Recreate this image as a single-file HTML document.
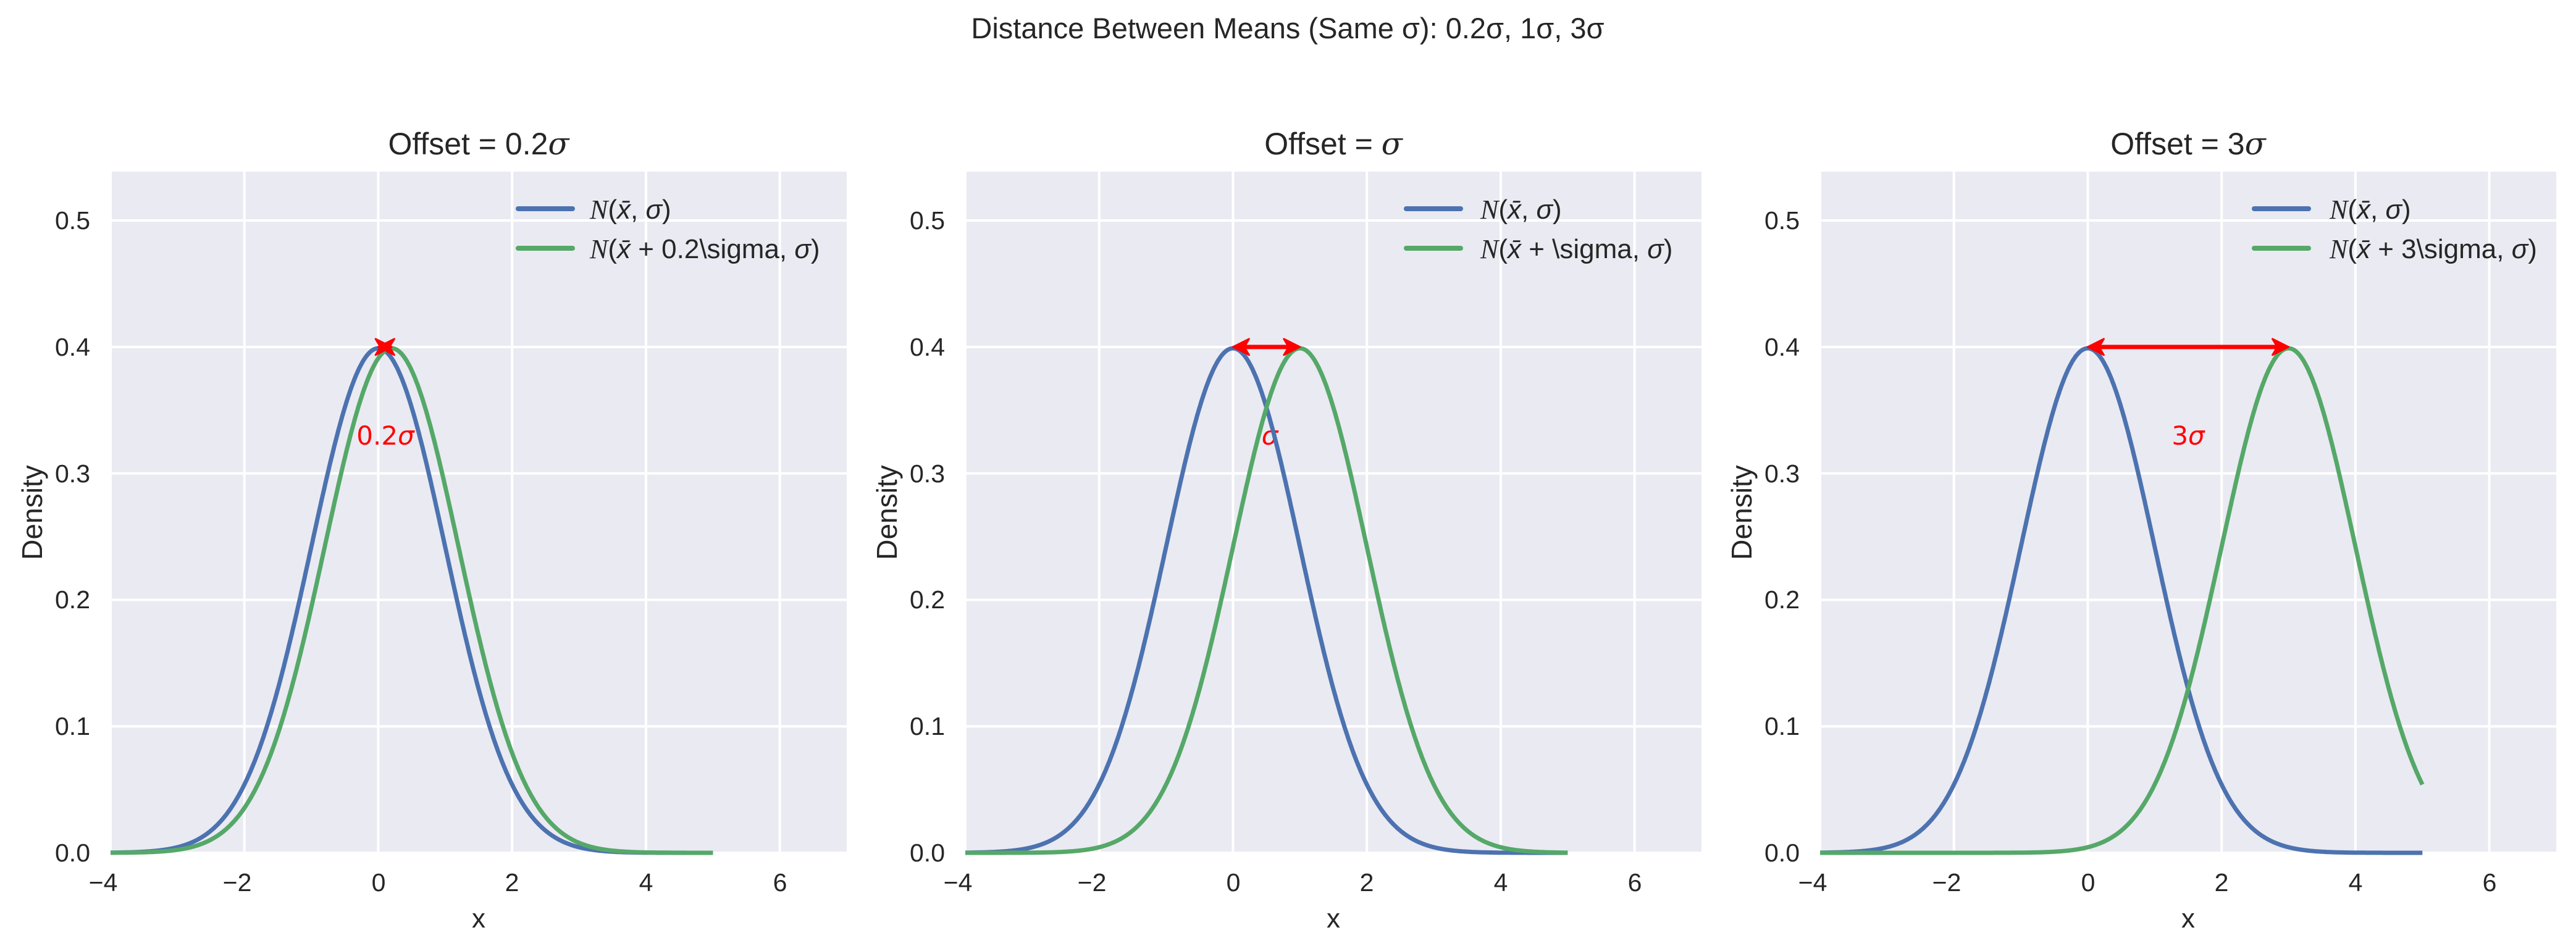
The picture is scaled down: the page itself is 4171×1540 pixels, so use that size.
<!DOCTYPE html>
<html><head><meta charset="utf-8"><style>
html,body{margin:0;padding:0;background:#fff;}
svg{display:block;font-family:"Liberation Sans",Arial,sans-serif;}
</style></head><body>
<svg id="s" width="4171" height="1540" viewBox="0 0 4171 1540" xmlns="http://www.w3.org/2000/svg">
<rect width="4171" height="1540" fill="#fff"/>
<text x="2085" y="62" font-size="47" text-anchor="middle" fill="#262626">Distance Between Means (Same σ): 0.2σ, 1σ, 3σ</text>
<g id="p0"><text x="775" y="250" font-size="50" text-anchor="middle" fill="#262626">Offset = 0.2<tspan font-style="italic" font-family="DejaVu Serif">σ</tspan></text></g>
<g id="p1"><text x="2159" y="250" font-size="50" text-anchor="middle" fill="#262626">Offset = <tspan font-style="italic" font-family="DejaVu Serif">σ</tspan></text></g>
<g id="p2"><text x="3543" y="250" font-size="50" text-anchor="middle" fill="#262626">Offset = 3<tspan font-style="italic" font-family="DejaVu Serif">σ</tspan></text></g>
<g id="legs">
<text x="955" y="354" font-size="44" fill="#262626"><tspan font-style="italic" font-family="Liberation Serif">N</tspan>(<tspan font-style="italic">x̄</tspan>, <tspan font-style="italic">σ</tspan>)</text>
<text x="955" y="418" font-size="44" fill="#262626"><tspan font-style="italic" font-family="Liberation Serif">N</tspan>(<tspan font-style="italic">x̄</tspan> + 0.2\sigma, <tspan font-style="italic">σ</tspan>)</text>
<text x="2397" y="354" font-size="44" fill="#262626"><tspan font-style="italic" font-family="Liberation Serif">N</tspan>(<tspan font-style="italic">x̄</tspan>, <tspan font-style="italic">σ</tspan>)</text>
<text x="2397" y="418" font-size="44" fill="#262626"><tspan font-style="italic" font-family="Liberation Serif">N</tspan>(<tspan font-style="italic">x̄</tspan> + \sigma, <tspan font-style="italic">σ</tspan>)</text>
<text x="3772" y="354" font-size="44" fill="#262626"><tspan font-style="italic" font-family="Liberation Serif">N</tspan>(<tspan font-style="italic">x̄</tspan>, <tspan font-style="italic">σ</tspan>)</text>
<text x="3772" y="418" font-size="44" fill="#262626"><tspan font-style="italic" font-family="Liberation Serif">N</tspan>(<tspan font-style="italic">x̄</tspan> + 3\sigma, <tspan font-style="italic">σ</tspan>)</text>
</g>
<g font-size="42" fill="#ff0000" font-family="DejaVu Sans" text-anchor="middle">
<text x="624" y="720">0.2<tspan font-style="italic">σ</tspan></text>
<text x="2056" y="720"><tspan font-style="italic">σ</tspan></text>
<text x="3543" y="720">3<tspan font-style="italic">σ</tspan></text>
</g>
<g font-size="44" fill="#262626" text-anchor="middle">
<text x="775" y="1502">x</text><text x="2159" y="1502">x</text><text x="3543" y="1502">x</text>
</g>
<g font-size="46" fill="#262626" text-anchor="middle">
<text transform="translate(68,830) rotate(-90)">Density</text>
<text transform="translate(1452,830) rotate(-90)">Density</text>
<text transform="translate(2836,830) rotate(-90)">Density</text>
</g>
<g id="tk" font-size="41" fill="#262626">
<text x="146" y="1395" text-anchor="end">0.0</text><text x="146" y="1190" text-anchor="end">0.1</text><text x="146" y="985" text-anchor="end">0.2</text><text x="146" y="781" text-anchor="end">0.3</text><text x="146" y="576" text-anchor="end">0.4</text><text x="146" y="371" text-anchor="end">0.5</text>
<text x="1530" y="1395" text-anchor="end">0.0</text><text x="1530" y="1190" text-anchor="end">0.1</text><text x="1530" y="985" text-anchor="end">0.2</text><text x="1530" y="781" text-anchor="end">0.3</text><text x="1530" y="576" text-anchor="end">0.4</text><text x="1530" y="371" text-anchor="end">0.5</text>
<text x="2914" y="1395" text-anchor="end">0.0</text><text x="2914" y="1190" text-anchor="end">0.1</text><text x="2914" y="985" text-anchor="end">0.2</text><text x="2914" y="781" text-anchor="end">0.3</text><text x="2914" y="576" text-anchor="end">0.4</text><text x="2914" y="371" text-anchor="end">0.5</text>
<text x="167" y="1443" text-anchor="middle">−4</text><text x="384" y="1443" text-anchor="middle">−2</text><text x="613" y="1443" text-anchor="middle">0</text><text x="829" y="1443" text-anchor="middle">2</text><text x="1046" y="1443" text-anchor="middle">4</text><text x="1263" y="1443" text-anchor="middle">6</text>
<text x="1551" y="1443" text-anchor="middle">−4</text><text x="1768" y="1443" text-anchor="middle">−2</text><text x="1997" y="1443" text-anchor="middle">0</text><text x="2213" y="1443" text-anchor="middle">2</text><text x="2430" y="1443" text-anchor="middle">4</text><text x="2647" y="1443" text-anchor="middle">6</text>
<text x="2935" y="1443" text-anchor="middle">−4</text><text x="3152" y="1443" text-anchor="middle">−2</text><text x="3381" y="1443" text-anchor="middle">0</text><text x="3597" y="1443" text-anchor="middle">2</text><text x="3814" y="1443" text-anchor="middle">4</text><text x="4031" y="1443" text-anchor="middle">6</text>
</g>
</svg>
<script>
(function(){
var NS="http://www.w3.org/2000/svg",s=document.getElementById('s');
var lefts=[179,1563,2947],W=1192,T=278,B=1381,U=W/11,YS=(B-T)/0.5386;
var offs=[0.2,1,3],legX=[660,714,703];
function el(n,a){var e=document.createElementNS(NS,n);for(var k in a)e.setAttribute(k,a[k]);return e;}
var first=s.querySelector('#p0');
for(var p=0;p<3;p++){
 var L=lefts[p],g=el('g',{});
 s.insertBefore(g,first);
 function X(x){return L+(x+4)*U;} function Y(y){return B-y*YS;}
 g.appendChild(el('rect',{x:L,y:T,width:W,height:B-T,fill:'#eaeaf2'}));
 for(var t=-4;t<=6;t+=2)g.appendChild(el('line',{x1:X(t),x2:X(t),y1:T,y2:B,stroke:'#fff','stroke-width':4}));
 for(var v=0;v<=5;v++)g.appendChild(el('line',{x1:L,x2:L+W,y1:Y(v/10),y2:Y(v/10),stroke:'#fff','stroke-width':4}));
 var cols=['#4c72b0','#55a868'],mus=[0,offs[p]];
 var cg=el('g',{});s.appendChild(cg);
 for(var c=0;c<2;c++){var d='';for(var i=0;i<=900;i++){var x=-4+i*0.01,y=Math.exp(-0.5*(x-mus[c])*(x-mus[c]))/Math.sqrt(2*Math.PI);d+=(i?'L':'M')+X(x).toFixed(1)+' '+Y(y).toFixed(1);}
  cg.appendChild(el('path',{d:d,fill:'none',stroke:cols[c],'stroke-width':7,'stroke-linejoin':'round'}));
  var ly=c?402:338;cg.appendChild(el('line',{x1:L+legX[p],x2:L+legX[p]+88,y1:ly,y2:ly,stroke:cols[c],'stroke-width':8,'stroke-linecap':'round'}));}
 var ax1=X(0),ax2=X(offs[p]),ay=Y(0.4),h=26,w=13;
 cg.appendChild(el('line',{x1:ax1+h*0.5,x2:ax2-h*0.5,y1:ay,y2:ay,stroke:'#f00','stroke-width':7}));
 cg.appendChild(el('path',{d:'M'+ax1+' '+ay+'L'+(ax1+h)+' '+(ay-w)+'L'+(ax1+h*0.7)+' '+ay+'L'+(ax1+h)+' '+(ay+w)+'Z',fill:'#f00',stroke:'#f00','stroke-width':3,'stroke-linejoin':'round'}));
 cg.appendChild(el('path',{d:'M'+ax2+' '+ay+'L'+(ax2-h)+' '+(ay-w)+'L'+(ax2-h*0.7)+' '+ay+'L'+(ax2-h)+' '+(ay+w)+'Z',fill:'#f00',stroke:'#f00','stroke-width':3,'stroke-linejoin':'round'}));
}
})();
</script>
</body></html>
